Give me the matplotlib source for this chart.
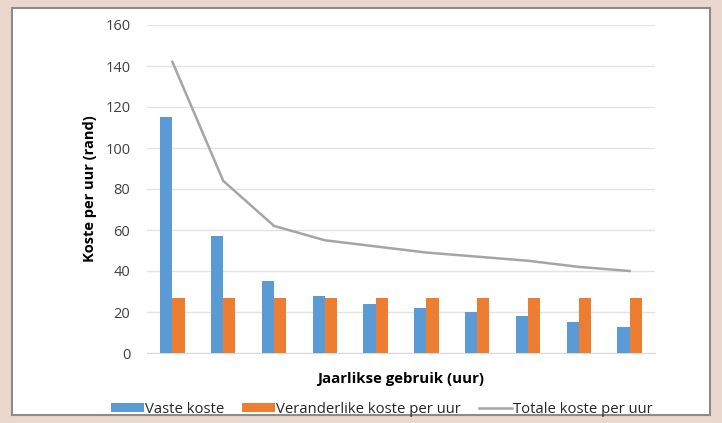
import numpy as np
import matplotlib
matplotlib.use("Agg")
import matplotlib.pyplot as plt
from matplotlib.patches import Rectangle

# data
groups = list(range(1, 11))
vaste_koste = [115, 57, 35, 28, 24, 22, 20, 18, 15, 12.5]
veranderlike_koste = [27, 27, 27, 27, 27, 27, 27, 27, 27, 27]
totale_koste = [142, 84, 62, 55, 52, 49, 47, 45, 42, 40]
y_ticks = [0, 20, 40, 60, 80, 100, 120, 140, 160]

plt.rcParams['font.family'] = ['Open Sans', 'DejaVu Sans']

fig = plt.figure(figsize=(7.22, 4.23), dpi=100)
fig.patch.set_facecolor('#ead8cf')

# white panel with grey frame, on its own background axes
bg = fig.add_axes([0, 0, 1, 1], zorder=0)
bg.set_xlim(0, 722)
bg.set_ylim(423, 0)
bg.axis('off')
bg.add_patch(Rectangle((12, 8), 698, 407, facecolor='white',
                       edgecolor='#8c8c8c', linewidth=1.5))

ax = fig.add_axes([147 / 722, 1 - 353 / 423, 508 / 722, 328 / 423], zorder=1)
ax.set_facecolor('none')

x = np.arange(len(groups))
w = 0.24
b1 = ax.bar(x - w / 2, vaste_koste, width=w, color='#5b9bd5', label='Vaste koste', zorder=3)
b2 = ax.bar(x + w / 2, veranderlike_koste, width=w, color='#ed7d31',
            label='Veranderlike koste per uur', zorder=3)
l1, = ax.plot(x, totale_koste, color='#a5a5a5', linewidth=1.8,
              label='Totale koste per uur', zorder=4)

ax.set_xlim(-0.5, len(groups) - 0.5)
ax.set_ylim(0, 160)
ax.set_yticks(y_ticks)
ax.set_xticks([])
ax.tick_params(axis='y', length=0, labelsize=10.5, colors='#404040', pad=12)
ax.grid(axis='y', color='#e3e3e3', linewidth=1, zorder=0)
for s in ['top', 'right', 'left']:
    ax.spines[s].set_visible(False)
ax.spines['bottom'].set_color('#d9d9d9')

ax.set_ylabel('Koste per uur (rand)', fontsize=10.5, fontweight='bold', labelpad=6)
ax.set_xlabel('Jaarlikse gebruik (uur)', fontsize=10.8, fontweight='bold', labelpad=14)

leg = ax.legend(handles=[b1, b2, l1], loc='center', bbox_to_anchor=(382 / 722, 1 - 409 / 423),
                bbox_transform=fig.transFigure, ncol=3,
                frameon=False, fontsize=10.7, handlelength=2.2, handleheight=0.6,
                handletextpad=0.1, columnspacing=1.2)
for t in leg.get_texts():
    t.set_color('#262626')

fig.savefig('out.png', dpi=100, facecolor=fig.get_facecolor())
